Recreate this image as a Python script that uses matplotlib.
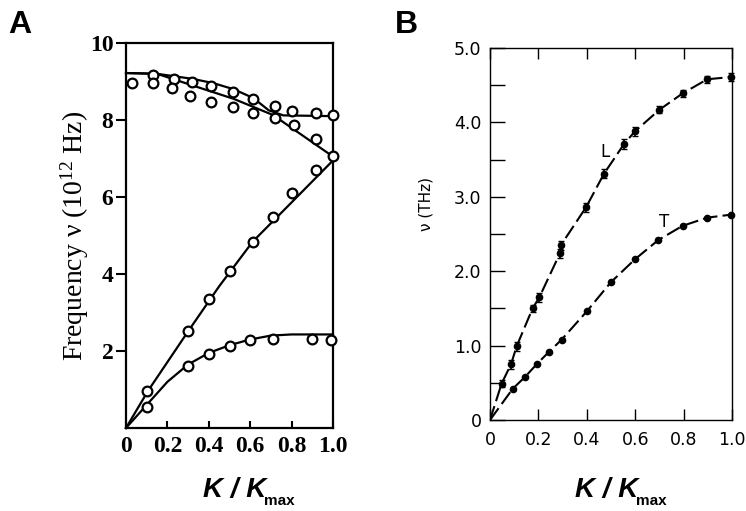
import matplotlib
matplotlib.use("Agg")
import matplotlib.pyplot as plt
import numpy as np

serif = "Liberation Serif"
sans = "DejaVu Sans"
plt.rcParams["mathtext.fontset"] = "custom"
plt.rcParams["mathtext.rm"] = serif
plt.rcParams["mathtext.it"] = serif + ":italic"

# ---------------- Panel A data ----------------
curve_opt_upper_x = [0, 0.15, 0.32, 0.42, 0.52, 0.615, 0.69, 0.76, 1.0]
curve_opt_upper_y = [9.22, 9.2, 9.07, 8.96, 8.8, 8.57, 8.25, 8.12, 8.1]
curve_opt_lower_x = [0, 0.15, 0.32, 0.52, 0.71, 1.0]
curve_opt_lower_y = [9.22, 9.2, 8.9, 8.55, 8.13, 7.05]
curve_la_x = [0, 0.107, 0.3, 0.45, 0.612, 0.8, 1.0]
curve_la_y = [0, 0.97, 2.51, 3.68, 4.84, 5.86, 6.95]
curve_ta_x = [0, 0.1, 0.2, 0.3, 0.4, 0.5, 0.6, 0.7, 0.8, 1.0]
curve_ta_y = [0, 0.6, 1.2, 1.65, 1.95, 2.15, 2.3, 2.4, 2.43, 2.43]

pts_opt1_x = [0.13, 0.23, 0.32, 0.41, 0.515, 0.615, 0.72, 0.80, 0.92, 1.0]
pts_opt1_y = [9.18, 9.07, 9.0, 8.88, 8.73, 8.54, 8.36, 8.23, 8.17, 8.13]
pts_opt2_x = [0.03, 0.13, 0.22, 0.31, 0.41, 0.515, 0.615, 0.72, 0.81, 0.92, 1.0]
pts_opt2_y = [8.96, 8.96, 8.83, 8.62, 8.47, 8.34, 8.17, 8.06, 7.88, 7.5, 7.06]
pts_la_x = [0.10, 0.30, 0.40, 0.50, 0.615, 0.71, 0.80, 0.92]
pts_la_y = [0.96, 2.51, 3.36, 4.08, 4.82, 5.47, 6.1, 6.7]
pts_ta_x = [0.10, 0.30, 0.40, 0.50, 0.60, 0.71, 0.90, 0.99]
pts_ta_y = [0.55, 1.6, 1.91, 2.12, 2.28, 2.32, 2.30, 2.28]

a_xticks = [0, 0.2, 0.4, 0.6, 0.8, 1.0]
a_xticklabels = ["0", "0.2", "0.4", "0.6", "0.8", "1.0"]
a_yticks = [2, 4, 6, 8, 10]
a_yticklabels = ["2", "4", "6", "8", "10"]

# ---------------- Panel B data ----------------
L_x = [0.048, 0.087, 0.11, 0.176, 0.204, 0.289, 0.293, 0.397, 0.471, 0.554, 0.599, 0.70, 0.796, 0.898, 0.996]
L_y = [0.49, 0.75, 0.99, 1.50, 1.65, 2.24, 2.35, 2.86, 3.31, 3.71, 3.88, 4.17, 4.39, 4.58, 4.61]
L_err = [0.05, 0.06, 0.06, 0.05, 0.06, 0.06, 0.06, 0.06, 0.06, 0.07, 0.06, 0.05, 0.05, 0.05, 0.05]
T_x = [0.094, 0.145, 0.193, 0.245, 0.296, 0.40, 0.499, 0.599, 0.696, 0.796, 0.898, 0.996]
T_y = [0.42, 0.58, 0.75, 0.92, 1.08, 1.46, 1.85, 2.16, 2.42, 2.61, 2.72, 2.76]

b_xticks = [0, 0.2, 0.4, 0.6, 0.8, 1.0]
b_xticklabels = ["0", "0.2", "0.4", "0.6", "0.8", "1.0"]
b_yticks = [0, 1, 2, 3, 4, 5]
b_yticklabels = ["0", "1.0", "2.0", "3.0", "4.0", "5.0"]

fig = plt.figure(figsize=(7.46, 5.11), dpi=100)

# ================= Panel A =================
axA = fig.add_axes([126/746, 1-428/511, 207/746, 385/511])
lw = 1.6
for cx, cy in [(curve_opt_upper_x, curve_opt_upper_y), (curve_opt_lower_x, curve_opt_lower_y),
               (curve_la_x, curve_la_y), (curve_ta_x, curve_ta_y)]:
    axA.plot(cx, cy, color="black", lw=lw, clip_on=False, zorder=2)
for px, py in [(pts_opt1_x, pts_opt1_y), (pts_opt2_x, pts_opt2_y),
               (pts_la_x, pts_la_y), (pts_ta_x, pts_ta_y)]:
    axA.plot(px, py, ls="none", marker="o", ms=7, mfc="white", mec="black", mew=1.6,
             clip_on=False, zorder=3)
axA.set_xlim(0, 1.0)
axA.set_ylim(0, 10)
axA.set_xticks(a_xticks)
axA.set_xticklabels(a_xticklabels, fontfamily=serif, fontweight="bold", fontsize=17)
axA.set_yticks(a_yticks)
axA.set_yticklabels(a_yticklabels, fontfamily=serif, fontweight="bold", fontsize=17)
axA.tick_params(axis="x", direction="in", length=5, width=1.5, pad=6)
axA.tick_params(axis="y", direction="out", length=7, width=1.5, pad=2)
for s in axA.spines.values():
    s.set_linewidth(1.6)
axA.set_ylabel(r"Frequency $\mathrm{\nu}$ (10$^{12}$ Hz)", fontfamily=serif, fontsize=20)
axA.yaxis.set_label_coords(-0.17, 0.5)

fig.text(203/746, 1-497/511, "K / K", fontfamily="Liberation Sans", fontweight="bold",
         fontstyle="italic", fontsize=20, ha="left", va="baseline")
fig.text(264/746, 1-505/511, "max", fontfamily="Liberation Sans", fontweight="bold",
         fontsize=11, ha="left", va="baseline")
fig.text(8/746, 1-33/511, "A", fontfamily="Liberation Sans", fontweight="bold",
         fontsize=23, ha="left", va="baseline")

# ================= Panel B =================
axB = fig.add_axes([490/746, 1-420/511, 242/746, 372/511])
dash = (0, (7, 2.5))
axB.plot([0] + L_x, [0] + L_y, color="black", lw=1.5, ls=dash, zorder=2)
axB.plot([0] + T_x, [0] + T_y, color="black", lw=1.5, ls=dash, zorder=2)
axB.errorbar(L_x, L_y, yerr=L_err, fmt="o", ms=4.5, color="black", ecolor="black",
             elinewidth=1.2, capsize=2, zorder=3, clip_on=False)
axB.plot(T_x, T_y, ls="none", marker="o", ms=4.5, color="black", zorder=3, clip_on=False)
axB.set_xlim(0, 1.0)
axB.set_ylim(0, 5.0)
axB.set_xticks(b_xticks)
axB.set_xticklabels(b_xticklabels, fontfamily=sans, fontsize=12.5)
axB.set_yticks(b_yticks)
axB.set_yticklabels(b_yticklabels, fontfamily=sans, fontsize=12.5)
axB.set_yticks(np.arange(0.5, 5.0, 1.0), minor=True)
axB.tick_params(axis="both", which="both", direction="in", top=True, width=1.0)
axB.tick_params(axis="y", which="both", length=11, pad=6)
axB.tick_params(axis="x", which="major", length=8, pad=8)
for s in axB.spines.values():
    s.set_linewidth(1.0)
axB.set_ylabel("ν (THz)", fontfamily=sans, fontsize=11)
axB.yaxis.set_label_coords(-0.235, 0.58)
axB.text(0.475, 3.6, "L", fontfamily=sans, fontsize=12, ha="center", va="center")
axB.text(0.72, 2.66, "T", fontfamily=sans, fontsize=12, ha="center", va="center")

fig.text(575/746, 1-497/511, "K / K", fontfamily="Liberation Sans", fontweight="bold",
         fontstyle="italic", fontsize=20, ha="left", va="baseline")
fig.text(636/746, 1-505/511, "max", fontfamily="Liberation Sans", fontweight="bold",
         fontsize=11, ha="left", va="baseline")
fig.text(395/746, 1-33/511, "B", fontfamily="Liberation Sans", fontweight="bold",
         fontsize=23, ha="left", va="baseline")

fig.savefig("out.png", dpi=100, facecolor="white")
